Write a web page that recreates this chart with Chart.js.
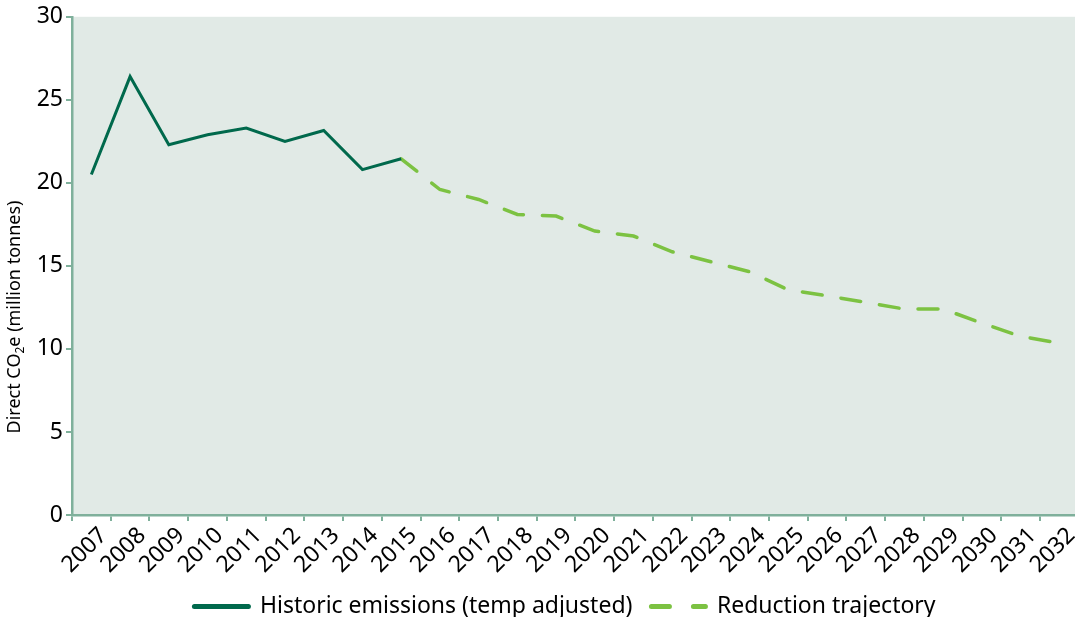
<!DOCTYPE html>
<html>
<head>
<meta charset="utf-8">
<script src="https://cdn.jsdelivr.net/npm/chart.js@4.4.1/dist/chart.umd.min.js"></script>
<style>
html, body { margin: 0; padding: 0; background: #fff; overflow: hidden; }
#wrap { position: relative; width: 1080px; height: 648px; }
</style>
</head>
<body>
<div id="wrap"><canvas id="chart"></canvas></div>
<script>
var years = ['2007', '2008', '2009', '2010', '2011', '2012', '2013', '2014', '2015', '2016',
    '2017', '2018', '2019', '2020', '2021', '2022', '2023', '2024', '2025', '2026',
    '2027', '2028', '2029', '2030', '2031', '2032'];
var historic = [20.5, 26.4, 22.3, 22.9, 23.3, 22.5, 23.15, 20.8, 21.45];
var trajectory = [null, null, null, null, null, null, null, null, 21.45, 19.6,
    19.0, 18.1, 18.0, 17.1, 16.8, 15.85, 15.25, 14.65, 13.55, 13.2,
    12.8, 12.4, 12.4, 11.55, 10.75, 10.35];
var seriesNames = ['Historic emissions (temp adjusted)', 'Reduction trajectory'];
var yTicks = [0, 5, 10, 15, 20, 25, 30];
var axisTitleParts = ['Direct CO', '2', 'e (million tonnes)'];

var colors = {
    historic: '#00694c',
    trajectory: '#7cc242',
    plotBg: '#e1eae6',
    axis: '#7fb09b'
};
var fontFamily = "'Noto Sans', sans-serif";

Chart.defaults.font.family = fontFamily;
Chart.defaults.color = '#000';

// light panel behind the plot
var plotBackground = {
    id: 'plotBackground',
    beforeDraw: function (chart) {
        var a = chart.chartArea;
        var ctx = chart.ctx;
        ctx.save();
        ctx.fillStyle = colors.plotBg;
        ctx.fillRect(a.left, a.top, a.right - a.left, a.bottom - a.top);
        ctx.restore();
    }
};

// move the legend to where the reference has it
var legendPlace = {
    id: 'legendPlace',
    afterLayout: function (chart) {
        var l = chart.legend;
        var dx = 565 - (l.left + l.right) / 2;
        var dy = 602 - (l.top + l.bottom) / 2;
        l.left += dx; l.right += dx;
        l.top += dy; l.bottom += dy;
    }
};

// y axis title with a real subscript
var yTitle = {
    id: 'yTitle',
    afterDraw: function (chart) {
        var ctx = chart.ctx;
        var big = '18px ' + fontFamily;
        var small = '12px ' + fontFamily;
        ctx.save();
        ctx.font = big;
        var w0 = ctx.measureText(axisTitleParts[0]).width;
        var w2 = ctx.measureText(axisTitleParts[2]).width;
        ctx.font = small;
        var w1 = ctx.measureText(axisTitleParts[1]).width;
        var total = w0 + w1 + w2;
        ctx.translate(15, 317);
        ctx.rotate(-Math.PI / 2);
        ctx.fillStyle = '#000';
        ctx.textBaseline = 'middle';
        ctx.textAlign = 'left';
        var x = -total / 2;
        ctx.font = big;
        ctx.fillText(axisTitleParts[0], x, 0);
        x += w0;
        ctx.font = small;
        ctx.fillText(axisTitleParts[1], x, 6);
        x += w1;
        ctx.font = big;
        ctx.fillText(axisTitleParts[2], x, 0);
        ctx.restore();
    }
};

var ctx = document.getElementById('chart').getContext('2d');
window.myChart = new Chart(ctx, {
    type: 'line',
    data: {
        labels: years,
        datasets: [
            {
                label: seriesNames[0],
                data: historic,
                borderColor: colors.historic,
                backgroundColor: colors.historic,
                borderWidth: 3,
                pointRadius: 0,
                tension: 0,
                fill: false
            },
            {
                label: seriesNames[1],
                data: trajectory,
                borderColor: colors.trajectory,
                backgroundColor: colors.trajectory,
                borderWidth: 3.5,
                borderDash: [20, 19],
                borderCapStyle: 'round',
                pointRadius: 0,
                tension: 0,
                fill: false
            }
        ]
    },
    options: {
        responsive: true,
        maintainAspectRatio: false,
        animation: false,
        layout: { padding: { top: 15, left: 0, right: 0, bottom: 0 } },
        plugins: {
            tooltip: { enabled: false },
            legend: {
                position: 'bottom',
                labels: {
                    usePointStyle: true,
                    pointStyleWidth: 54,
                    padding: 19,
                    color: '#000',
                    font: { size: 23 },
                    generateLabels: function (chart) {
                        return [
                            { text: seriesNames[0], datasetIndex: 0, pointStyle: 'line', strokeStyle: colors.historic, fillStyle: colors.historic, lineWidth: 5, lineCap: 'round', lineDash: [], fontColor: '#000' },
                            { text: seriesNames[1], datasetIndex: 1, pointStyle: 'line', strokeStyle: colors.trajectory, fillStyle: colors.trajectory, lineWidth: 5, lineCap: 'round', lineDash: [18, 24], fontColor: '#000' }
                        ];
                    }
                }
            }
        },
        scales: {
            x: {
                offset: true,
                grid: { offset: true, drawOnChartArea: false, drawTicks: true, tickLength: 6, color: colors.axis, lineWidth: 2 },
                border: { color: colors.axis, width: 2.5 },
                ticks: { autoSkip: false, minRotation: 45, maxRotation: 45, padding: 1, labelOffset: 12, color: '#000', font: { size: 23 } },
                afterFit: function (scale) { scale.height = 81; }
            },
            y: {
                min: 0,
                max: 30,
                afterBuildTicks: function (scale) {
                    scale.ticks = yTicks.map(function (v) { return { value: v }; });
                },
                grid: { drawOnChartArea: false, drawTicks: true, tickLength: 6, color: colors.axis, lineWidth: 2 },
                border: { color: colors.axis, width: 2.5 },
                ticks: { padding: 3, color: '#000', font: { size: 23 } },
                afterFit: function (scale) { scale.width = 72; }
            }
        }
    },
    plugins: [plotBackground, legendPlace, yTitle]
});
</script>
</body>
</html>
